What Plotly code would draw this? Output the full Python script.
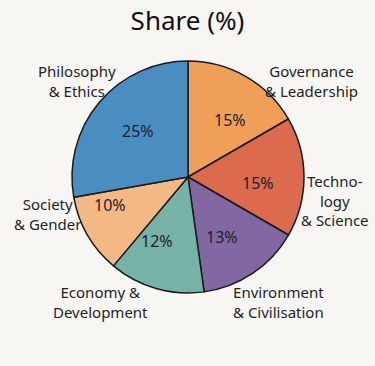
import plotly.graph_objects as go

categories = ["Governance<br>& Leadership", "Techno-<br>logy<br>& Science",
              "Environment<br>& Civilisation", "Economy &<br>Development",
              "Society<br>& Gender", "Philosophy<br>& Ethics"]
shares = [15, 15, 13, 12, 10, 25]
share_labels = ["15%", "15%", "13%", "12%", "10%", "25%"]
colors = ["#F09F58", "#DC6A4C", "#8268A2", "#74B3A6", "#F3B984", "#4A8DC0"]

W, H = 375, 366
cx, cy, r = 188, 177, 116
dom_x = [(cx - r) / W, (cx + r) / W]
dom_y = [1 - (cy + r) / H, 1 - (cy - r) / H]

# layout only: pixel centres of category labels and of share labels
label_pos = [(311, 81), (335, 200), (278, 302), (100, 302), (47, 214), (77, 81)]
share_pos = [(230, 120), (258, 183), (222, 237), (157, 241), (110, 205), (138, 131)]

fig = go.Figure()
fig.add_trace(go.Pie(
    values=shares, labels=categories, textinfo="none",
    sort=False, direction="clockwise", rotation=0,
    marker=dict(colors=colors, line=dict(color="#1a1a1a", width=1.5)),
    domain=dict(x=dom_x, y=dom_y), showlegend=False, hoverinfo="skip",
))
for lab, (px, py) in zip(categories, label_pos):
    fig.add_annotation(
        text=lab, x=px / W, y=1 - py / H, xref="paper", yref="paper",
        xanchor="center", yanchor="middle", align="center", showarrow=False,
        font=dict(size=15, color="#1c1f26", family="Noto Sans"),
    )
for lab, (px, py) in zip(share_labels, share_pos):
    fig.add_annotation(
        text=lab, x=px / W, y=1 - py / H, xref="paper", yref="paper",
        xanchor="center", yanchor="middle", align="center", showarrow=False,
        font=dict(size=16, color="#1c2230", family="Noto Sans"),
    )
fig.update_layout(
    width=W, height=H, margin=dict(l=0, r=0, t=0, b=0),
    paper_bgcolor="#F8F6F2", plot_bgcolor="#F8F6F2",
    title=dict(text="Share (%)", x=0.5, xanchor="center", y=1 - 21 / H, yanchor="middle",
               font=dict(size=26, color="#111111", family="Noto Sans")),
)
fig.write_html("out.html", config={"displayModeBar": False},
               post_script="document.body.style.margin='0';document.body.style.overflow='hidden';")
